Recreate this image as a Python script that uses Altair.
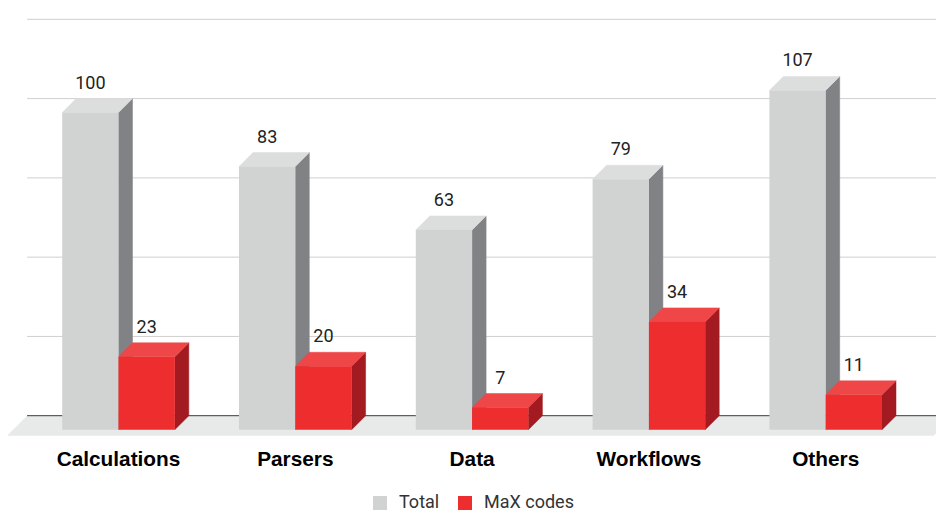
import altair as alt
import pandas as pd

# ---- data ----
categories = ["Calculations", "Parsers", "Data", "Workflows", "Others"]
total = [100, 83, 63, 79, 107]
max_codes = [23, 20, 7, 34, 11]
series_names = ["Total", "MaX codes"]
grid_values = [25, 50, 75, 100, 125]

# ---- styles ----
front_colors = ["#d1d3d3", "#ee2d2e"]
top_colors = ["#dcdddd", "#ef4647"]
side_colors = ["#808285", "#a31b20"]
floor_color = "#e8e9e9"
grid_color = "#cfcfcf"
base_color = "#3a3a3a"

W, H = 928, 504
PX_PER_X = 176.8        # pixels per category step
PX_PER_Y = 3.171        # pixels per value unit
X0_PX, Y0_PX = 110.5, 407.7
X_DOM = [-X0_PX / PX_PER_X, (W - X0_PX) / PX_PER_X]
Y_DOM = [-(H - Y0_PX) / PX_PER_Y, Y0_PX / PX_PER_Y]
ux = 1 / PX_PER_X
uy = 1 / PX_PER_Y
BW = 56.3 * ux       # bar width
DX, DY = 14 * ux, 14 * uy          # bar depth
FDX, FDY = 20 * ux, 20 * uy        # floor depth
FLOOR_L, FLOOR_R = -0.63, 4.61     # floor front edge (category units)

xs = alt.Scale(domain=X_DOM, zero=False, nice=False)
ys = alt.Scale(domain=Y_DOM, zero=False, nice=False)

fronts, sides, tops, vlabels = [], [], [], []
for i, cat in enumerate(categories):
    for s, vals in enumerate([total, max_codes]):
        v = vals[i]
        xl = i - BW if s == 0 else i
        key = f"{cat}-{s}"
        fronts.append(dict(series=series_names[s], x=xl, x2=xl + BW, y=-DY, y2=v - DY))
        sides.append(dict(key=key, fill=side_colors[s], x=xl + BW, y=v - DY, y2=-DY))
        sides.append(dict(key=key, fill=side_colors[s], x=xl + BW + DX, y=v, y2=0))
        tops.append(dict(key=key, fill=top_colors[s], y=v - DY, x=xl, x2=xl + BW))
        tops.append(dict(key=key, fill=top_colors[s], y=v, x=xl + DX, x2=xl + BW + DX))
        vlabels.append(dict(x=xl + BW / 2, y=v, label=str(v)))

front_df = pd.DataFrame(fronts)
side_df = pd.DataFrame(sides)
top_df = pd.DataFrame(tops)
vlab_df = pd.DataFrame(vlabels)
cat_df = pd.DataFrame(dict(x=list(range(len(categories))), y=[0] * len(categories), label=categories))
floor_df = pd.DataFrame(dict(y=[-FDY, 0], x=[FLOOR_L, FLOOR_L + FDX], x2=[FLOOR_R, FLOOR_R + FDX]))
grid_df = pd.DataFrame(dict(y=grid_values, x=[FLOOR_L + FDX] * len(grid_values), x2=[X_DOM[1]] * len(grid_values)))
base_df = pd.DataFrame(dict(y=[0], x=[FLOOR_L + FDX], x2=[X_DOM[1]]))

floor = alt.Chart(floor_df).mark_area(orient="horizontal", color=floor_color, clip=True).encode(
    y=alt.Y("y:Q", scale=ys, axis=None),
    x=alt.X("x:Q", scale=xs, axis=None, stack=None),
    x2="x2:Q",
)
grid = alt.Chart(grid_df).mark_rule(color=grid_color, strokeWidth=1).encode(
    y=alt.Y("y:Q", scale=ys, axis=None),
    x=alt.X("x:Q", scale=xs, axis=None),
    x2="x2:Q",
)
base = alt.Chart(base_df).mark_rule(color=base_color, strokeWidth=1).encode(
    y=alt.Y("y:Q", scale=ys, axis=None),
    x=alt.X("x:Q", scale=xs, axis=None),
    x2="x2:Q",
)
side = alt.Chart(side_df).mark_area(strokeWidth=0.5).encode(
    x=alt.X("x:Q", scale=xs, axis=None),
    y=alt.Y("y:Q", scale=ys, axis=None, stack=None),
    y2="y2:Q",
    detail="key:N",
    fill=alt.Fill("fill:N", scale=None),
    stroke=alt.Stroke("fill:N", scale=None),
)
top = alt.Chart(top_df).mark_area(orient="horizontal", strokeWidth=0.5).encode(
    y=alt.Y("y:Q", scale=ys, axis=None),
    x=alt.X("x:Q", scale=xs, axis=None, stack=None),
    x2="x2:Q",
    detail="key:N",
    fill=alt.Fill("fill:N", scale=None),
    stroke=alt.Stroke("fill:N", scale=None),
)
front = alt.Chart(front_df).mark_rect(strokeWidth=0).encode(
    x=alt.X("x:Q", scale=xs, axis=None),
    x2="x2:Q",
    y=alt.Y("y:Q", scale=ys, axis=None),
    y2="y2:Q",
    color=alt.Color(
        "series:N",
        scale=alt.Scale(domain=series_names, range=front_colors),
        legend=alt.Legend(
            title=None, orient="none", legendX=363, legendY=486, direction="horizontal",
            symbolType="square", symbolSize=196, symbolStrokeWidth=0,
            labelFont="Roboto", labelFontSize=18, labelColor="#333333",
            labelOffset=10, columnPadding=16,
        ),
    ),
)
values = alt.Chart(vlab_df).mark_text(
    font="Roboto", fontSize=18, color="#222222", baseline="alphabetic", dy=-10
).encode(
    x=alt.X("x:Q", scale=xs, axis=None),
    y=alt.Y("y:Q", scale=ys, axis=None),
    text="label:N",
)
cats = alt.Chart(cat_df).mark_text(
    font="Liberation Sans", fontWeight="bold", fontSize=20.8, color="#000000",
    baseline="alphabetic", dy=50.5
).encode(
    x=alt.X("x:Q", scale=xs, axis=None),
    y=alt.Y("y:Q", scale=ys, axis=None),
    text="label:N",
)

chart = alt.layer(floor, grid, base, side, top, front, values, cats).properties(
    width=W, height=H, padding=0, autosize="none"
).configure_view(stroke=None)

chart.save("out.html", embed_options={"renderer": "svg", "actions": False})
